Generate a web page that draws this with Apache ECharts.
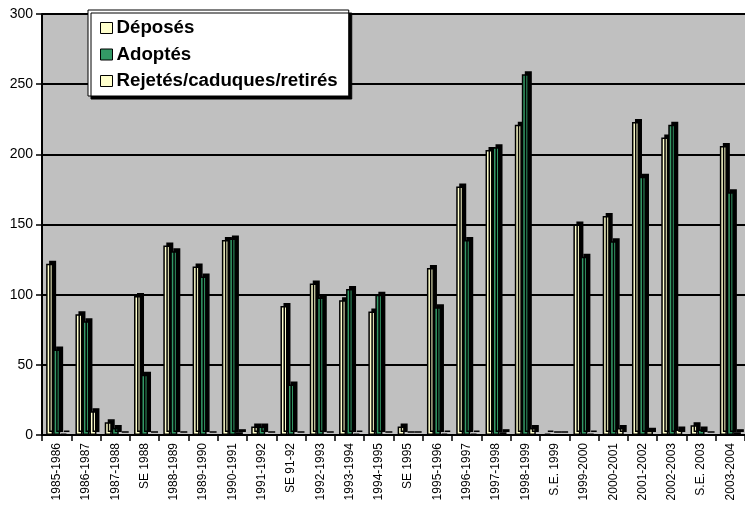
<!DOCTYPE html>
<html>
<head>
<meta charset="utf-8">
<script src="https://cdn.jsdelivr.net/npm/echarts@6/dist/echarts.min.js"></script>
<style>
  html, body { margin: 0; padding: 0; background: #ffffff; }
  #chart { width: 745px; height: 507px; }
</style>
</head>
<body>
<div id="chart"></div>
<script>
// Sessions (parliamentary years and special sessions)
const sessions = [
  '1985-1986', '1986-1987', '1987-1988', 'SE 1988', '1988-1989', '1989-1990',
  '1990-1991', '1991-1992', 'SE 91-92', '1992-1993', '1993-1994', '1994-1995',
  'SE 1995', '1995-1996', '1996-1997', '1997-1998', '1998-1999', 'S.E. 1999',
  '1999-2000', '2000-2001', '2001-2002', '2002-2003', 'S.E. 2003', '2003-2004'
];

// Bills tabled
const deposes = [
  122, 86, 9, 99, 135, 120, 139, 6, 92, 108, 96, 88,
  6, 119, 177, 203, 221, 1, 150, 156, 223, 212, 7, 206
];

// Bills adopted
const adoptes = [
  61, 81, 5, 43, 131, 113, 140, 6, 36, 98, 104, 100,
  0, 91, 139, 205, 257, 0, 127, 138, 184, 221, 4, 173
];

// Bills rejected, lapsed or withdrawn
const rejetes = [
  1, 17, 0, 0, 0, 0, 2, 0, 0, 0, 1, 0,
  0, 1, 1, 2, 5, 0, 1, 5, 3, 4, 0, 2
];

const yTicks = { min: 0, max: 300, interval: 50 };

const FONT = '"Liberation Sans", Arial, sans-serif';

// Flat bar with a black offset shadow to give the extruded (3D) look
function barSeries(name, data, color) {
  return {
    name: name,
    type: 'bar',
    data: data,
    barWidth: 7,
    barGap: '0%',
    itemStyle: {
      color: color,
      borderColor: '#000000',
      borderWidth: 1.5,
      shadowColor: '#000000',
      shadowBlur: 0,
      shadowOffsetX: 3,
      shadowOffsetY: -3
    },
    emphasis: { disabled: true }
  };
}

const chart = echarts.init(document.getElementById('chart'), null, { renderer: 'canvas' });

chart.setOption({
  animation: false,
  backgroundColor: '#ffffff',
  grid: {
    left: 42,
    right: 0,
    top: 14,
    bottom: 72,
    show: true,
    backgroundColor: '#c0c0c0',
    borderWidth: 0
  },
  legend: {
    orient: 'vertical',
    left: 88,
    top: 10,
    padding: [8, 11, 5, 12],
    itemWidth: 12,
    itemHeight: 11,
    itemGap: 6.5,
    backgroundColor: '#ffffff',
    borderColor: '#000000',
    borderWidth: 1,
    shadowColor: '#000000',
    shadowBlur: 0,
    shadowOffsetX: 3,
    shadowOffsetY: 3,
    icon: 'rect',
    itemStyle: { borderColor: '#000000', borderWidth: 1, shadowBlur: 0, shadowOffsetX: 0, shadowOffsetY: 0 },
    textStyle: {
      fontFamily: FONT,
      fontWeight: 'bold',
      fontSize: 18.7,
      lineHeight: 20,
      color: '#000000',
      padding: [0, 0, 0, -1]
    },
    data: ['Déposés', 'Adoptés', 'Rejetés/caduques/retirés']
  },
  xAxis: {
    type: 'category',
    data: sessions,
    axisLine: { lineStyle: { color: '#000000', width: 2 } },
    axisTick: { show: true, length: 6, lineStyle: { color: '#000000', width: 1.5 } },
    axisLabel: {
      interval: 0,
      rotate: 90,
      fontFamily: FONT,
      fontSize: 12,
      color: '#000000',
      margin: 8
    }
  },
  yAxis: {
    type: 'value',
    min: yTicks.min,
    max: yTicks.max,
    interval: yTicks.interval,
    axisLine: { show: true, lineStyle: { color: '#000000', width: 2 } },
    axisTick: { show: true, length: 6, lineStyle: { color: '#000000', width: 1.5 } },
    axisLabel: {
      fontFamily: FONT,
      fontSize: 14,
      color: '#000000',
      margin: 9
    },
    splitLine: { show: true, lineStyle: { color: '#000000', width: 2 } }
  },
  series: [
    barSeries('Déposés', deposes, '#ffffcc'),
    barSeries('Adoptés', adoptes, '#339966'),
    barSeries('Rejetés/caduques/retirés', rejetes, '#ffffcc')
  ]
});
</script>
</body>
</html>
